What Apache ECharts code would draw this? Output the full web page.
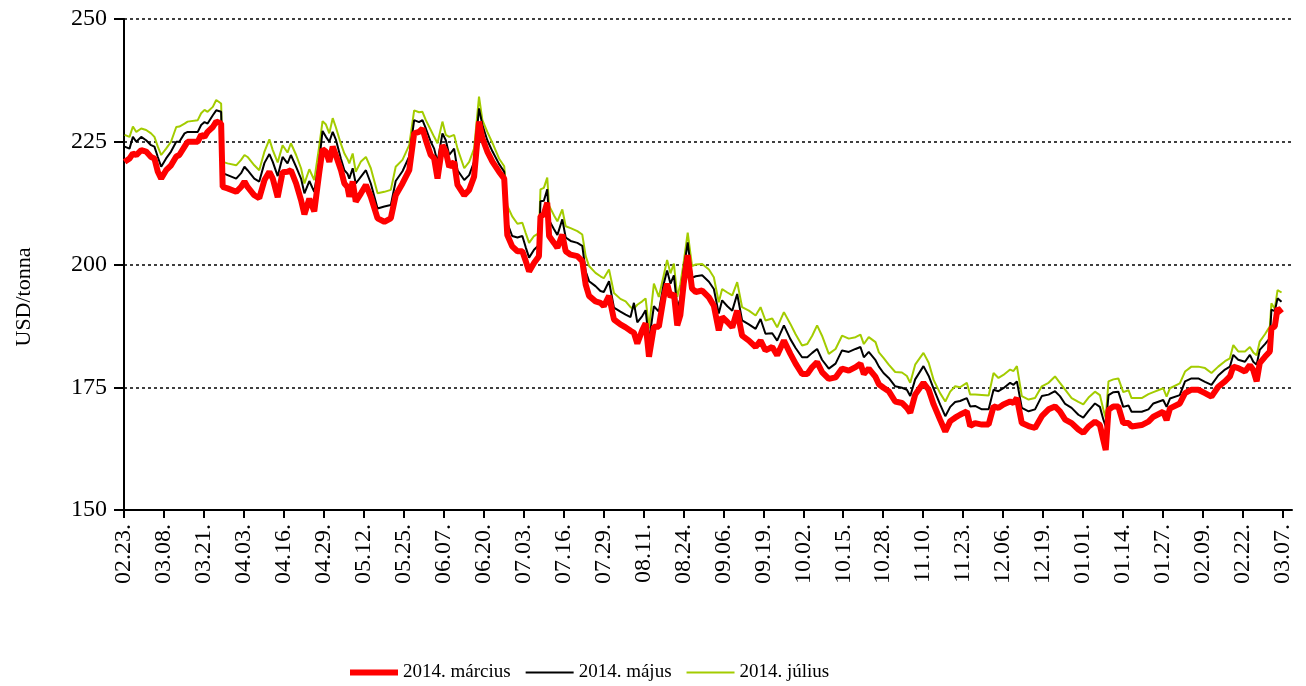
<!DOCTYPE html>
<html>
<head>
<meta charset="utf-8">
<script src="https://cdn.jsdelivr.net/npm/echarts@6/dist/echarts.min.js"></script>
<style>
html,body{margin:0;padding:0;background:#fff;}
#chart{width:1306px;height:686px;}
</style>
</head>
<body>
<div id="chart"></div>
<script>
// x tick labels (every 13 days from 2013-02-23)
const xTickLabels = ['02.23.','03.08.','03.21.','04.03.','04.16.','04.29.','05.12.','05.25.','06.07.','06.20.',
  '07.03.','07.16.','07.29.','08.11.','08.24.','09.06.','09.19.','10.02.','10.15.','10.28.',
  '11.10.','11.23.','12.06.','12.19.','01.01.','01.14.','01.27.','02.09.','02.22.','03.07.'];
const tickStepDays = 13;
const seriesNames = ['2014. március','2014. május','2014. július'];

// day offsets from 02.23.
const days = [
0.2,1.8,2.9,4.0,5.6,7.2,8.8,9.9,11.0,12.1,
13.7,15.3,17.0,18.0,19.7,20.7,24.0,25.1,26.2,27.2,
28.9,30.0,31.6,32.1,33.7,36.5,38.1,39.2,40.2,42.4,
44.0,45.7,47.3,48.4,50.0,51.6,53.2,54.3,56.0,57.6,
58.7,60.3,61.9,63.5,64.6,65.7,66.8,67.9,68.9,70.6,
71.7,72.7,73.3,74.4,75.4,77.1,78.7,80.3,82.5,84.7,
86.8,88.4,90.6,92.8,94.4,96.0,97.1,98.2,99.8,100.9,
102.0,103.6,104.7,105.8,107.4,108.5,110.7,112.3,113.9,115.5,
116.6,118.2,119.9,122.0,123.7,124.7,126.3,128.0,129.6,130.7,
131.8,133.4,135.0,135.5,136.6,137.7,138.3,139.9,141.0,142.6,
143.7,145.3,147.5,149.1,150.2,151.3,153.4,155.0,156.1,157.8,
159.4,161.5,163.2,164.8,165.9,167.0,168.6,169.7,170.8,172.4,
174.0,175.6,176.7,177.8,178.9,180.0,181.0,182.1,183.4,184.8,
186.0,188.1,190.3,191.9,193.5,194.6,196.3,197.9,199.5,201.1,
203.3,205.5,207.1,208.7,210.9,212.5,214.7,216.8,218.5,220.6,
222.3,223.9,225.5,227.1,229.3,231.5,233.6,235.8,238.0,239.6,
240.7,242.3,244.5,245.6,247.1,248.8,250.9,253.1,254.7,255.8,
257.4,260.1,261.8,263.4,265.5,267.2,268.8,270.4,272.0,274.2,
275.3,276.9,279.1,281.3,282.9,284.5,286.1,288.3,289.4,290.5,
292.1,294.3,296.4,298.6,300.8,302.9,304.5,306.2,308.3,310.5,
312.1,313.8,315.9,317.5,318.6,319.4,320.3,321.9,323.5,325.1,
326.8,327.8,331.1,333.3,334.9,338.1,339.2,340.3,343.5,345.2,
347.3,349.5,351.7,353.8,356.0,358.2,359.8,360.9,362.5,364.7,
366.3,367.4,368.5,369.5,371.2,372.8,373.3,374.4,375.3,376.6];

const march2014 = [
220.9,221.6,222.6,222.3,223.3,223.0,221.9,221.6,218.9,217.5,
219.2,220.2,222.0,222.3,224.0,225.0,225.0,226.4,226.0,227.0,
228.0,229.1,228.7,215.8,215.5,214.8,215.8,216.9,215.8,214.1,
213.5,217.2,218.9,217.5,213.7,218.8,218.9,219.2,216.5,213.1,
210.2,213.4,210.8,218.6,223.5,223.0,220.9,224.0,222.3,219.2,
216.5,215.8,213.8,216.9,212.8,214.5,216.2,213.8,209.4,208.7,
209.4,214.1,216.5,219.2,226.7,227.0,227.7,225.3,222.3,221.6,
217.5,224.3,223.0,219.9,220.9,216.2,214.1,215.2,217.9,229.1,
225.7,223.0,220.9,218.9,217.5,206.0,203.7,202.7,202.7,200.7,
198.6,200.3,201.7,209.8,210.2,212.6,205.8,204.4,203.4,206.1,
202.7,202.0,201.7,200.7,195.9,193.6,192.5,192.2,191.5,193.6,
188.8,187.8,187.2,186.5,186.1,183.9,186.6,188.0,181.2,187.3,
187.3,193.4,196.1,193.4,194.1,187.6,189.7,196.1,201.9,195.1,
194.4,194.7,193.3,191.6,186.6,189.3,188.3,187.2,190.6,185.5,
184.5,183.2,184.5,182.5,183.2,181.5,184.5,181.8,179.8,177.7,
177.7,179.1,180.1,178.1,176.7,177.0,178.8,178.4,179.1,179.8,
177.7,178.8,177.1,175.6,174.9,174.2,172.1,171.8,170.8,169.8,
173.5,175.9,174.5,171.5,168.4,166.0,168.1,168.8,169.4,170.1,
167.1,167.7,167.4,167.4,171.1,170.8,171.5,172.1,171.8,172.8,
167.7,167.1,166.7,169.1,170.5,171.1,170.1,168.4,167.7,166.4,
165.7,167.0,168.0,167.3,164.3,162.2,170.4,171.1,171.1,167.7,
167.7,167.0,167.3,168.0,169.0,170.0,168.3,170.7,171.7,173.8,
174.5,174.5,173.8,173.1,175.1,176.2,177.2,179.2,178.9,178.2,
179.5,178.5,176.2,179.9,181.2,182.3,187.0,187.4,191.1,190.1];

const may2014 = [
224.0,223.6,226.0,225.0,226.0,225.3,224.3,224.0,221.9,219.9,
221.6,223.0,225.0,225.0,226.7,227.0,227.0,228.4,229.0,228.7,
230.4,231.4,231.1,218.6,218.2,217.5,218.6,219.9,219.2,217.5,
216.9,220.7,222.5,220.9,218.0,221.9,220.6,222.3,219.9,217.5,
214.5,217.0,214.8,221.0,227.2,226.0,225.0,227.0,225.5,221.5,
219.2,218.5,217.5,219.6,216.5,217.9,219.2,216.5,211.4,211.8,
212.1,217.0,219.0,222.0,229.4,229.0,229.4,227.7,225.0,223.6,
220.9,226.7,225.3,222.3,223.6,219.2,217.2,218.2,220.9,231.8,
228.4,225.3,223.0,220.5,218.9,208.5,205.8,205.5,205.8,203.5,
201.4,203.0,204.0,212.9,213.0,215.3,209.0,207.2,206.0,209.2,
205.5,204.8,204.4,203.8,198.6,196.6,195.6,194.6,194.4,196.6,
191.2,190.4,189.8,189.3,192.2,188.2,189.5,190.7,184.5,191.5,
190.4,196.1,198.8,196.1,197.8,191.2,193.0,199.0,204.5,197.3,
197.6,197.8,196.5,195.0,190.0,192.7,191.5,190.6,194.0,188.6,
187.8,186.9,188.9,185.9,186.0,184.5,187.6,184.8,183.0,181.1,
181.1,182.0,182.8,180.6,178.8,179.8,182.5,182.2,182.8,183.2,
181.1,182.2,180.5,179.2,177.9,176.9,175.2,174.9,174.5,173.2,
176.6,179.3,177.3,174.7,171.5,169.1,171.0,172.0,172.2,172.8,
171.1,171.2,170.5,170.5,174.5,174.2,174.8,175.9,175.5,176.2,
170.8,170.1,170.5,173.2,173.5,174.2,173.2,171.6,170.8,169.4,
168.8,170.2,171.7,171.0,168.5,167.0,173.4,174.0,174.1,171.0,
171.3,170.0,170.0,170.5,171.7,172.4,171.0,172.7,173.4,176.2,
176.8,176.8,176.1,175.5,177.4,178.6,179.2,181.6,180.6,180.2,
181.6,180.2,179.6,182.6,183.8,185.0,190.8,190.5,193.1,192.4];

const july2014 = [
226.4,226.0,228.1,227.0,227.7,227.4,226.7,226.0,224.0,222.3,
223.6,225.0,228.0,228.1,228.7,229.1,229.4,230.8,231.5,231.1,
232.1,233.5,232.8,220.9,220.6,220.2,221.3,222.3,221.9,220.2,
219.2,223.0,225.5,223.3,220.8,224.3,222.8,224.7,222.3,219.6,
216.5,219.4,217.2,224.0,229.2,228.5,226.7,229.8,228.0,224.5,
222.6,221.5,220.6,222.6,218.9,221.0,221.9,219.6,214.5,214.8,
215.2,219.9,221.3,224.3,231.4,231.0,231.1,229.4,227.4,226.0,
224.7,229.1,226.4,226.0,226.4,223.6,219.6,220.9,223.6,234.2,
229.4,227.0,224.7,221.6,220.0,212.0,209.8,208.3,208.5,206.4,
204.4,205.8,206.4,215.3,215.6,217.7,212.0,210.0,208.8,211.2,
207.8,207.4,206.8,206.1,201.7,199.7,198.3,197.6,197.2,199.0,
194.2,193.0,192.5,191.3,191.0,191.8,192.5,193.1,187.0,196.1,
193.4,197.8,200.9,198.2,200.2,193.4,196.0,200.5,206.5,199.7,
200.0,200.1,199.0,197.4,192.3,195.0,194.3,193.7,196.4,191.3,
190.6,189.6,191.3,188.6,189.0,187.2,190.3,187.9,185.8,183.5,
183.8,185.5,187.6,185.5,181.8,182.8,185.5,184.9,185.2,185.7,
183.8,185.2,184.2,182.1,181.0,179.6,178.1,178.0,177.3,175.9,
179.6,182.0,180.0,176.5,173.8,172.1,174.1,175.2,175.0,175.9,
173.5,173.5,173.4,173.3,177.9,176.9,177.5,178.6,178.3,179.3,
173.2,172.5,172.8,175.2,175.9,177.2,175.9,174.5,172.8,172.0,
171.5,172.9,174.1,173.4,170.5,168.7,176.2,176.6,176.8,174.0,
174.4,172.8,172.8,173.6,174.0,174.8,173.1,174.8,175.8,178.2,
179.2,179.2,178.9,177.9,179.2,180.3,180.9,183.6,182.3,182.3,
183.2,182.1,181.5,184.3,185.8,187.4,192.1,191.0,194.8,194.3];

const yMin = 150, yMax = 250, yStep = 25;

const FONT = '"Liberation Serif", "Times New Roman", serif';
const COLORS = ['#ff0000', '#000000', '#a3cc00'];
const WIDTHS = [6, 2, 2];
const tickValues = xTickLabels.map((_, i) => i * tickStepDays);
const zip = vals => days.map((d, i) => [d, vals[i]]);
// legend line icon: a horizontal bar of the series line width, centred in a 48x14 box
const barIcon = w => {
  const y0 = (14 - w) / 2, y1 = y0 + w;
  return 'path://M0,0L0,0M0,' + y0 + 'L48,' + y0 + 'L48,' + y1 + 'L0,' + y1 + 'ZM48,14L48,14';
};

const chart = echarts.init(document.getElementById('chart'), null, {renderer: 'canvas'});
chart.setOption({
  animation: false,
  backgroundColor: '#ffffff',
  grid: {left: 124, right: 14, top: 19, bottom: 176, containLabel: false},
  xAxis: {
    type: 'value',
    min: 0,
    max: 380,
    interval: tickStepDays,
    axisLine: {show: true, onZero: false, lineStyle: {color: '#000', width: 2}},
    axisTick: {show: true, length: 8, inside: false, lineStyle: {color: '#000', width: 2}, customValues: tickValues},
    axisLabel: {
      customValues: tickValues,
      rotate: 90, margin: 14, color: '#000', fontFamily: FONT, fontSize: 24,
      formatter: v => {
        const i = Math.round(v / tickStepDays);
        return (Math.abs(v - i * tickStepDays) < 0.01 && xTickLabels[i]) ? xTickLabels[i] : '';
      }
    },
    splitLine: {show: false}
  },
  yAxis: {
    type: 'value',
    min: yMin, max: yMax, interval: yStep,
    axisLine: {show: true, lineStyle: {color: '#000', width: 2}},
    axisTick: {show: true, length: 10, lineStyle: {color: '#000', width: 2}},
    axisLabel: {color: '#000', fontFamily: FONT, fontSize: 24, margin: 17},
    splitLine: {show: true, lineStyle: {color: '#000', width: 1.5, type: [3, 3]}}
  },
  legend: {
    left: 345, top: 658,
    itemWidth: 48, itemHeight: 14, itemGap: 15,
    textStyle: {color: '#000', fontFamily: FONT, fontSize: 19},
    data: seriesNames.map((n, i) => ({
      name: n, icon: barIcon(WIDTHS[i]),
      itemStyle: {color: COLORS[i], borderWidth: 0}
    }))
  },
  graphic: [{
    type: 'text', x: 24, y: 297, rotation: Math.PI / 2,
    style: {text: 'USD/tonna', font: '22px "Liberation Serif"', fill: '#000', align: 'center', verticalAlign: 'middle'}
  }],
  series: seriesNames.map((n, i) => ({
    name: n, type: 'line',
    data: zip([march2014, may2014, july2014][i]),
    symbol: 'none', z: 4 - i,
    lineStyle: {color: COLORS[i], width: WIDTHS[i]},
    itemStyle: {color: COLORS[i]}
  }))
});
</script>
</body>
</html>
